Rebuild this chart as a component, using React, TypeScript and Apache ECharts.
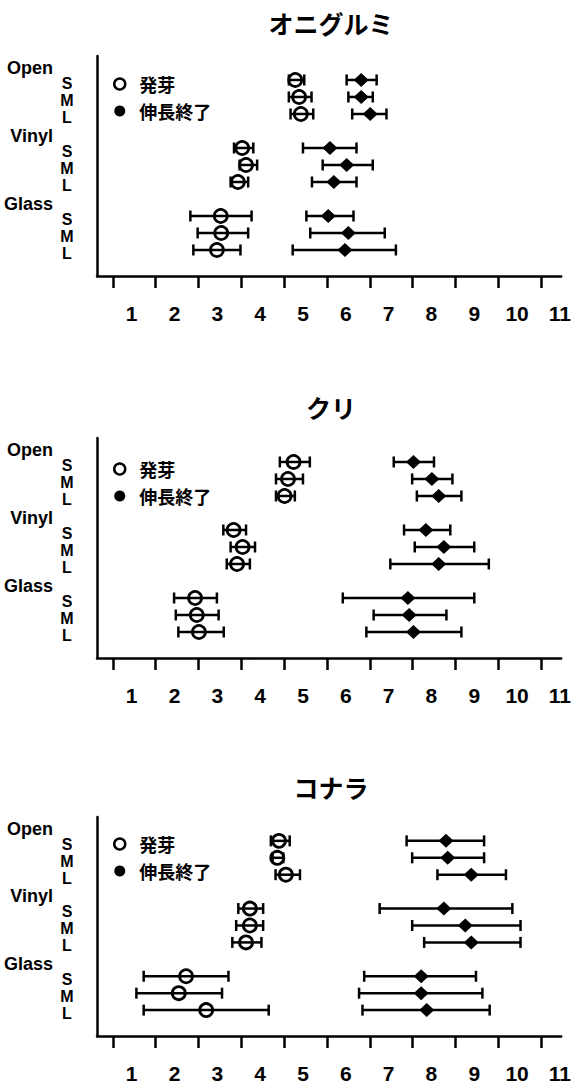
import React, { useEffect, useRef } from 'react';
import * as echarts from 'echarts';

const titles = ['オニグルミ', 'クリ', 'コナラ'];
const groups = ['Open', 'Vinyl', 'Glass'];
const sizes = ['S', 'M', 'L'];
const seriesNames = ['発芽', '伸長終了'];
const xLabels = [1, 2, 3, 4, 5, 6, 7, 8, 9, 10, 11];
const xTicks = [0.56, 1.56, 2.56, 3.56, 4.56, 5.56, 6.56, 7.56, 8.56, 9.56, 10.56];

// order: Open S,M,L / Vinyl S,M,L / Glass S,M,L
// オニグルミ
const oniGermMean = [4.82, 4.91, 4.95, 3.58, 3.67, 3.48, 3.08, 3.09, 2.99];
const oniGermLow = [4.67, 4.67, 4.71, 3.39, 3.52, 3.31, 2.37, 2.54, 2.44];
const oniGermHigh = [5.03, 5.2, 5.24, 3.84, 3.93, 3.72, 3.8, 3.72, 3.54];
const oniEndMean = [6.36, 6.36, 6.57, 5.63, 6.02, 5.72, 5.59, 6.06, 5.98];
const oniEndLow = [6.02, 6.06, 6.15, 5.0, 5.46, 5.21, 5.08, 5.17, 4.76];
const oniEndHigh = [6.72, 6.63, 6.95, 6.25, 6.63, 6.25, 6.18, 6.91, 7.17];
// クリ
const kuriGermMean = [4.78, 4.65, 4.57, 3.38, 3.59, 3.46, 2.48, 2.52, 2.57];
const kuriGermLow = [4.46, 4.37, 4.37, 3.14, 3.31, 3.22, 1.99, 2.03, 2.09];
const kuriGermHigh = [5.16, 5.0, 4.81, 3.67, 3.88, 3.76, 2.99, 3.03, 3.15];
const kuriEndMean = [7.58, 8.01, 8.17, 7.87, 8.29, 8.17, 7.45, 7.48, 7.58];
const kuriEndLow = [7.12, 7.55, 7.66, 7.36, 7.61, 7.04, 5.93, 6.65, 6.48];
const kuriEndHigh = [8.06, 8.49, 8.7, 8.44, 9.0, 9.34, 9.0, 8.35, 8.7];
// コナラ
const konaGermMean = [4.44, 4.4, 4.6, 3.76, 3.76, 3.67, 2.27, 2.1, 2.74];
const konaGermLow = [4.25, 4.29, 4.36, 3.49, 3.44, 3.35, 1.28, 1.11, 1.28];
const konaGermHigh = [4.69, 4.54, 4.93, 4.07, 4.07, 4.03, 3.26, 3.11, 4.2];
const konaEndMean = [8.34, 8.38, 8.93, 8.29, 8.79, 8.93, 7.76, 7.76, 7.89];
const konaEndLow = [7.42, 7.55, 8.14, 6.79, 7.55, 7.83, 6.43, 6.31, 6.39];
const konaEndHigh = [9.23, 9.23, 9.74, 9.89, 10.08, 10.08, 9.04, 9.19, 9.36];

const panels = [
  { germ: [oniGermMean, oniGermLow, oniGermHigh], end: [oniEndMean, oniEndLow, oniEndHigh] },
  { germ: [kuriGermMean, kuriGermLow, kuriGermHigh], end: [kuriEndMean, kuriEndLow, kuriEndHigh] },
  { germ: [konaGermMean, konaGermLow, konaGermHigh], end: [konaEndMean, konaEndLow, konaEndHigh] },
];

const rowPos = (i: number) => Math.floor(i / 3) * 4 + (i % 3);
const rowValues = [0, 1, 2, 3, 4, 5, 6, 7, 8].map((i) => rowPos(i) + 0.2);
const groupValues = [0, 1, 2].map((g) => g * 4 - 0.72);

const latin = "'Liberation Sans', Arial, sans-serif";
const cjk = "'Noto Sans CJK JP', sans-serif";

const gridTops = [56, 438, 817];
const titleTops = [5, 389, 769];
const legendTops = [75, 460, 835];

function buildOption() {
  const grid: any[] = [];
  const xAxis: any[] = [];
  const yAxis: any[] = [];
  const series: any[] = [];
  const title: any[] = [];
  const legend: any[] = [];

  panels.forEach((p, i) => {
    grid.push({ left: 97, right: 11, top: gridTops[i], height: 220 });
    title.push({
      text: titles[i],
      left: 326,
      top: titleTops[i],
      textAlign: 'center',
      textStyle: { fontFamily: cjk, fontSize: 25, fontWeight: 'bold', color: '#000' },
    });
    legend.push({
      orient: 'vertical',
      left: 113,
      top: legendTops[i],
      padding: 0,
      itemGap: 9,
      itemWidth: 11,
      itemHeight: 11,
      selectedMode: false,
      textStyle: { fontFamily: cjk, fontSize: 18, fontWeight: 'bold', color: '#000', padding: [0, 0, 0, 9] },
      data: [
        { name: seriesNames[0], icon: 'circle', itemStyle: { color: '#fff', borderColor: '#000', borderWidth: 2.5 } },
        { name: seriesNames[1], icon: 'circle', itemStyle: { color: '#000', borderWidth: 0 } },
      ],
    });
    xAxis.push({
      gridIndex: i,
      type: 'value',
      min: 0.19,
      max: 11.03,
      axisLine: { show: true, onZero: false, lineStyle: { color: '#000', width: 2.5 } },
      axisTick: { show: true, customValues: xTicks, length: 12, lineStyle: { color: '#000', width: 2.5 } },
      axisLabel: {
        customValues: xLabels,
        showMinLabel: true,
        showMaxLabel: true,
        margin: 27,
        fontFamily: latin,
        fontSize: 21,
        fontWeight: 'bold',
        color: '#000',
      },
      splitLine: { show: false },
    });
    yAxis.push({
      gridIndex: i,
      type: 'value',
      inverse: true,
      min: -1.41,
      max: 11.53,
      axisLine: { show: true, onZero: false, lineStyle: { color: '#000', width: 2.5 } },
      axisTick: { show: false },
      splitLine: { show: false },
      axisLabel: {
        customValues: rowValues,
        showMinLabel: true,
        showMaxLabel: true,
        formatter: (v: number) => sizes[Math.round(v) % 4] ?? '',
        margin: 30,
        align: 'center',
        fontFamily: latin,
        fontSize: 16,
        fontWeight: 'bold',
        color: '#000',
      },
    });
    yAxis.push({
      gridIndex: i,
      type: 'value',
      inverse: true,
      position: 'left',
      min: -1.41,
      max: 11.53,
      axisLine: { show: false, onZero: false },
      axisTick: { show: false },
      splitLine: { show: false },
      axisLabel: {
        customValues: groupValues,
        showMinLabel: true,
        showMaxLabel: true,
        formatter: (v: number) => groups[Math.round((v + 0.72) / 4)] ?? '',
        margin: 44,
        fontFamily: latin,
        fontSize: 18,
        fontWeight: 'bold',
        color: '#000',
      },
    });

    const yIdx = i * 2;
    const makeErr = (arr: number[][], name: string) => ({
      type: 'custom',
      name,
      xAxisIndex: i,
      yAxisIndex: yIdx,
      silent: true,
      encode: { x: [0, 1], y: 2 },
      data: arr[1].map((lo, k) => [lo, arr[2][k], rowPos(k)]),
      renderItem: (params: any, api: any) => {
        const a = api.coord([api.value(0), api.value(2)]);
        const b = api.coord([api.value(1), api.value(2)]);
        const h = 5.5;
        const st = { stroke: '#000', lineWidth: 2.5 };
        return {
          type: 'group',
          children: [
            { type: 'line', shape: { x1: a[0], y1: a[1], x2: b[0], y2: b[1] }, style: st },
            { type: 'line', shape: { x1: a[0], y1: a[1] - h, x2: a[0], y2: a[1] + h }, style: st },
            { type: 'line', shape: { x1: b[0], y1: b[1] - h, x2: b[0], y2: b[1] + h }, style: st },
          ],
        };
      },
    });
    series.push(makeErr(p.germ, 'errG' + i));
    series.push(makeErr(p.end, 'errE' + i));
    series.push({
      type: 'scatter',
      name: seriesNames[0],
      xAxisIndex: i,
      yAxisIndex: yIdx,
      symbol: 'circle',
      symbolSize: 13,
      itemStyle: { color: 'rgba(255,255,255,0)', borderColor: '#000', borderWidth: 2.8, opacity: 1 },
      data: p.germ[0].map((m, k) => [m, rowPos(k)]),
      z: 3,
    });
    series.push({
      type: 'scatter',
      name: seriesNames[1],
      xAxisIndex: i,
      yAxisIndex: yIdx,
      symbol: 'diamond',
      symbolSize: [15, 14],
      itemStyle: { color: '#000', opacity: 1 },
      data: p.end[0].map((m, k) => [m, rowPos(k)]),
      z: 3,
    });
  });

  return { animation: false, backgroundColor: '#fff', title, legend, grid, xAxis, yAxis, series };
}

export default function App() {
  const ref = useRef<HTMLDivElement>(null);
  useEffect(() => {
    if (!ref.current) return;
    const chart = echarts.init(ref.current, null, { renderer: 'svg' });
    chart.setOption(buildOption() as any);
    return () => chart.dispose();
  }, []);
  return (
    <div
      ref={ref}
      style={{ position: 'absolute', left: 0, top: 0, width: 574, height: 1084, background: '#fff' }}
    />
  );
}
